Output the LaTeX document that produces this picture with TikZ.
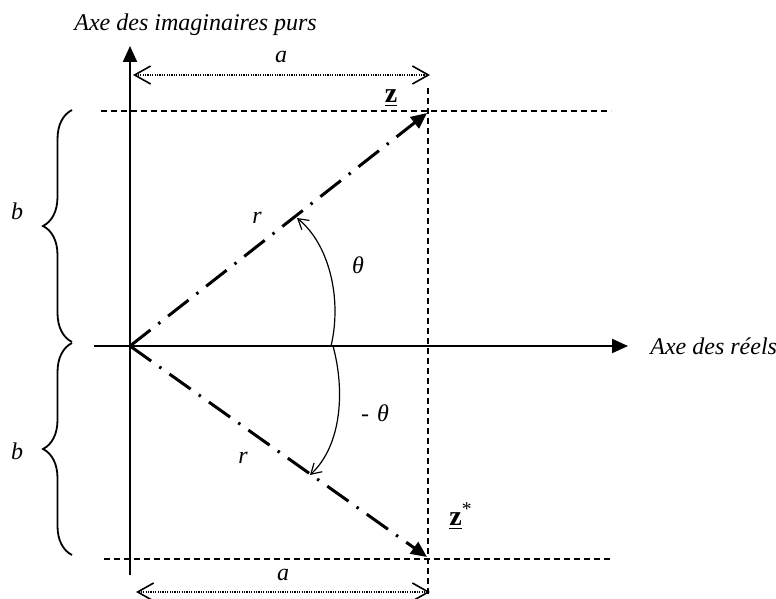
\documentclass[tikz,border=0pt]{standalone}
\usepackage{fontspec}
\setmainfont{Liberation Serif}
\usetikzlibrary{arrows.meta, decorations.pathreplacing}

\tikzset{
  axe/.style={line width=1pt, -{Triangle[length=8pt,width=7pt]}},
  rayon/.style={line width=1.5pt, dash pattern=on 13pt off 5pt on 1.2pt off 5pt,
    -{Triangle[length=8pt,width=7pt]}},
  repere/.style={line width=0.6pt, dash pattern=on 3pt off 2pt},
  cote/.style={line width=0.8pt, dash pattern=on 0.6pt off 0.6pt,
    {Straight Barb[length=8pt,width=9pt]}-{Straight Barb[length=8pt,width=9pt]}},
  angle/.style={line width=0.6pt, -{Straight Barb[length=5pt,width=6pt]}},
  accolade/.style={line width=0.9pt, decorate, decoration={brace, amplitude=14.5pt}},
  lbl/.style={font=\fontsize{12}{14}\selectfont\itshape, inner sep=1pt},
  nombre/.style={font=\fontsize{14}{16}\selectfont, inner sep=1pt},
}

\begin{document}
\begin{tikzpicture}[x=0.5pt, y=-0.5pt, font=\fontsize{12}{14}\selectfont]
        \useasboundingbox (0,0) rectangle (776,599);
        % points
        \coordinate (O) at (130,346);
        \coordinate (Z) at (427,113);
        \coordinate (Zc) at (427,557);
        % axes
        \coordinate (Xg) at (94,346);
        \coordinate (Xd) at (628,346);
        \coordinate (Yh) at (130,46);
        \coordinate (Yb) at (130,575);
        \draw[axe] (Xg) -- (Xd);
        \draw[axe] (Yb) -- (Yh);
        \node[lbl, anchor=base west] (reels) at (648,354) {Axe des réels};
        \node[lbl, anchor=base west] (imag) at (72,31) {Axe des imaginaires purs};
        % lignes de rappel
        \draw[repere] (101,111) -- (611,111);
        \draw[repere] (104,559) -- (611,559);
        \draw[repere] (428,88) -- (428,596);
        % cotes a
        \draw[cote] (133,75) -- (430,75);
        \node[lbl] (a1) at (281,57) {a};
        \draw[cote] (136,592) -- (430,592);
        \node[lbl] (a2) at (283,575) {a};
        % accolades b
        \draw[accolade] (72,342) -- (72,110);
        \node[lbl] (b1) at (17,211) {b};
        \draw[accolade] (72,555) -- (72,343);
        \node[lbl] (b2) at (17,451) {b};
        % rayons
        \draw[rayon] (O) -- (Z);
        \draw[rayon] (O) -- (Zc);
        \node[nombre] (z) at (391,98) {\underline{\textbf{z}}};
        \node[nombre] (zc) at (461,516) {\underline{\textbf{z}}\textsuperscript{*}};
        \node[lbl] (r1) at (257,218) {r};
        \node[lbl] (r2) at (243,458) {r};
        % angles
        \draw[angle] (331,346) .. controls (342,300) and (330,245) .. (297,218);
        \draw[angle] (333,346) .. controls (345,390) and (342,445) .. (310,475);
        \node[lbl] (th1) at (358,265) {θ};
        \node[lbl] (th2) at (375,413) {-\,\,θ};
      \end{tikzpicture}
\end{document}
